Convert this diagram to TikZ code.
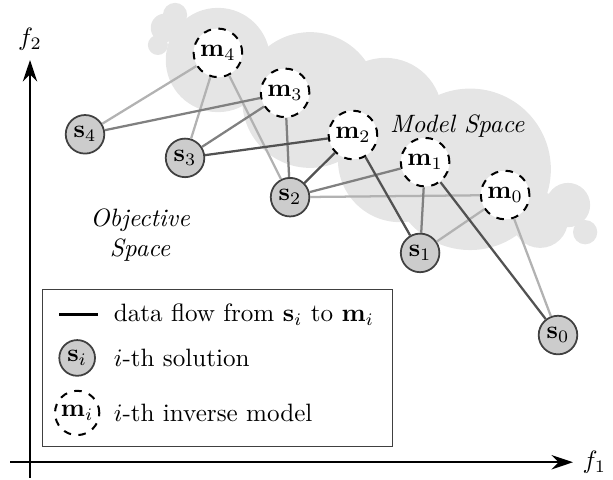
\documentclass[tikz,border=0pt]{standalone}
\usepackage{amsmath, amssymb}
\usepackage{tikz}
\usetikzlibrary{positioning}
\usetikzlibrary{arrows.meta}
\usepackage{xcolor}

\begin{document}
\begin{tikzpicture}[
  font=\normalsize,
  sol/.style={circle, draw=black!75, line width=0.7pt, fill=black!20, minimum size=0.54cm, inner sep=0pt},
  model/.style={circle, draw=black, thick, dashed, fill=white, minimum size=0.68cm, inner sep=0pt},
  axis/.style={-{Stealth[length=3mm, width=2mm]}, line width=1pt},
  cloud/.style={fill=black!10, draw=none},
  lightedge/.style={black!30, line width=0.9pt},
  midedge/.style={black!50, line width=0.9pt},
  darkedge/.style={black!68, line width=0.9pt},
  note/.style={font=\itshape, align=center}
]
\useasboundingbox (-0.42,-0.24) rectangle (8.16,6.47);

% Model space cloud
\fill[cloud] (2.63,5.63) circle (0.73);
\fill[cloud] (1.89,6.08) circle (0.20);
\fill[cloud] (1.79,5.84) circle (0.14);
\fill[cloud] (2.03,6.26) circle (0.17);
\fill[cloud] (3.92,5.07) circle (0.95);
\fill[cloud] (4.97,4.86) circle (0.80);
\fill[cloud] (5.18,4.23) circle (0.87);
\fill[cloud] (6.16,4.10) circle (1.13);
\fill[cloud] (7.14,3.39) circle (0.39);
\fill[cloud] (7.53,3.60) circle (0.31);
\fill[cloud] (7.77,3.22) circle (0.17);

% Axes
\draw[axis] (0,-0.22) -- (0,5.63) node[above] (f2) {$f_2$};
\draw[axis] (-0.28,0) -- (7.60,0) node[right] (f1) {$f_1$};

% Inverse models
\node[model] (m4) at (2.63,5.73) {$\mathbf{m}_4$};
\node[model] (m3) at (3.57,5.17) {$\mathbf{m}_3$};
\node[model] (m2) at (4.52,4.58) {$\mathbf{m}_2$};
\node[model] (m1) at (5.53,4.20) {$\mathbf{m}_1$};
\node[model] (m0) at (6.65,3.74) {$\mathbf{m}_0$};

% Solutions
\node[sol] (s4) at (0.77,4.59) {$\mathbf{s}_4$};
\node[sol] (s3) at (2.17,4.26) {$\mathbf{s}_3$};
\node[sol] (s2) at (3.64,3.71) {$\mathbf{s}_2$};
\node[sol] (s1) at (5.46,2.93) {$\mathbf{s}_1$};
\node[sol] (s0) at (7.39,1.78) {$\mathbf{s}_0$};

% Data flow
\foreach \a/\b in {s4/m4, s3/m4, s2/m4, s2/m0, s1/m0, s0/m0}
  \draw[lightedge] (\a) -- (\b);
\foreach \a/\b in {s4/m3, s3/m3, s2/m3, s2/m1, s1/m1}
  \draw[midedge] (\a) -- (\b);
\foreach \a/\b in {s3/m2, s2/m2, s1/m2, s0/m1}
  \draw[darkedge] (\a) -- (\b);

% Space labels
\node[note] (ms) at (5.98,4.70) {Model Space};
\node[note] (os) at (1.54,3.18) {Objective\\Space};

% Legend
\node[draw, black!75, minimum width=4.90cm, minimum height=2.20cm] (leg) at (2.62,1.32) {};
\coordinate (la) at (0.41,2.07);
\coordinate (lb) at (0.95,2.07);
\draw[black, line width=1pt] (la) -- (lb);
\node[anchor=west] (t1) at (1.05,2.07) {data flow from $\mathbf{s}_i$ to $\mathbf{m}_i$};
\node[sol, minimum size=0.50cm] (si) at (0.66,1.46) {$\mathbf{s}_i$};
\node[anchor=west] (t2) at (1.05,1.46) {$i$-th solution};
\node[model, minimum size=0.62cm] (mi) at (0.66,0.69) {$\mathbf{m}_i$};
\node[anchor=west] (t3) at (1.05,0.69) {$i$-th inverse model};

\end{tikzpicture}
\end{document}
